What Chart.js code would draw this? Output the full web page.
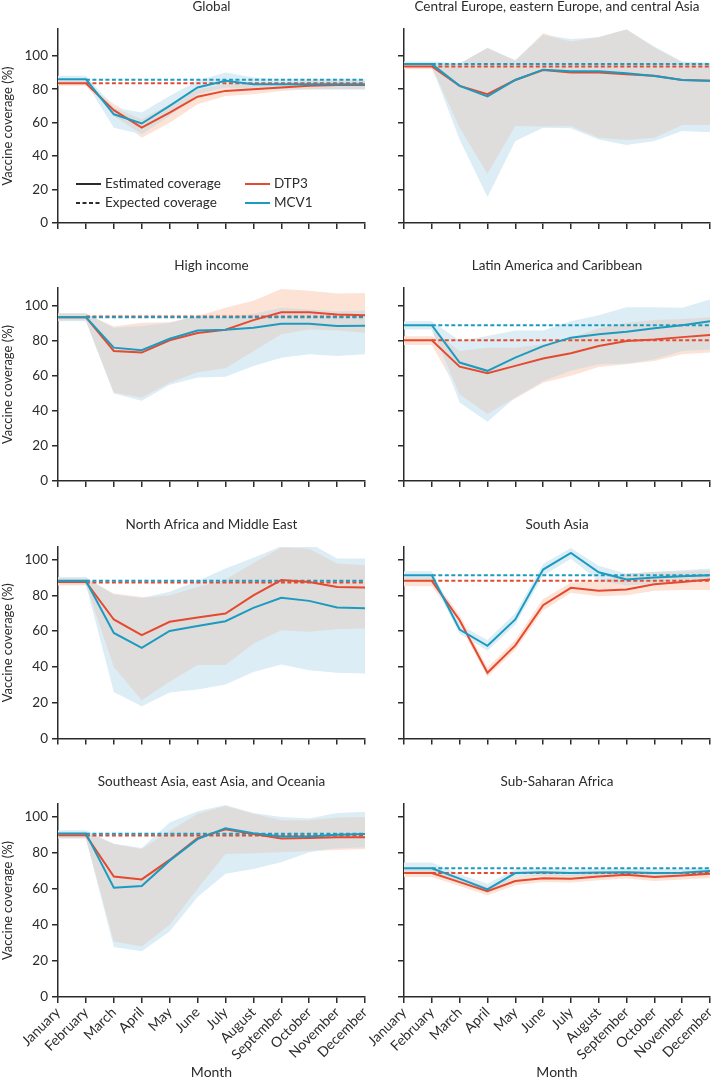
<!DOCTYPE html>
<html>
<head>
<meta charset="utf-8">
<title>Vaccine coverage by month</title>
<script src="https://cdn.jsdelivr.net/npm/chart.js@4.4.1/dist/chart.umd.min.js"></script>
<style>
  body { margin: 0; background: #fff; width: 713px; height: 1079px; position: relative; overflow: hidden; }
  canvas { position: absolute; }
</style>
</head>
<body>
<script>
const months = ['January', 'February', 'March', 'April', 'May', 'June', 'July', 'August', 'September', 'October', 'November', 'December'];
const yTickStep = 20;

// Global
const globalDtp3    = [83.5, 83.5, 67.5, 57, 66, 75.5, 79, 80, 81, 82, 82.5, 82.5];
const globalDtp3Lo  = [82, 82, 64, 51, 60, 71, 76, 77, 79, 80, 80, 80];
const globalDtp3Hi  = [85, 85, 71, 62, 71, 80, 83, 84, 84, 85, 85, 85];
const globalMcv1    = [86, 86, 65, 59.5, 70, 81, 85, 83, 83, 83, 83, 83];
const globalMcv1Lo  = [84, 84, 57, 53, 64, 77, 81, 80, 80, 80, 80, 80];
const globalMcv1Hi  = [88, 88, 69, 66, 76, 85, 90, 87, 86, 86, 86, 86];
const globalExpected = [83.5, 85.7];

// Central Europe, eastern Europe, and central Asia
const ceDtp3    = [93.6, 93.6, 82, 77, 85.5, 91.5, 90, 90, 89, 88, 85.5, 85];
const ceDtp3Lo  = [92, 92, 57, 29.5, 58, 57.7, 58, 51, 49.7, 51, 58.6, 58.6];
const ceDtp3Hi  = [95.5, 95.5, 95, 104.6, 97, 113.5, 108.5, 111, 115.7, 105, 96, 95.4];
const ceMcv1    = [95, 95, 82, 75.7, 85.5, 91.7, 90.7, 90.7, 89.5, 87.9, 85.5, 85];
const ceMcv1Lo  = [93.5, 93.5, 50, 15.5, 49, 57, 56.7, 50, 46.7, 49, 55, 54.3];
const ceMcv1Hi  = [96.5, 96.5, 95.5, 104.6, 97.5, 112.5, 110, 111, 115.7, 105.5, 96.5, 95.8];
const ceExpected = [93.6, 95];

// High income
const hiDtp3    = [93.4, 93.4, 74.1, 73.2, 80.2, 84.3, 86.2, 91.7, 96.2, 96.2, 94.9, 94.5];
const hiDtp3Lo  = [91.5, 91.5, 50.5, 47.6, 56, 62, 64.3, 74, 83.6, 86.4, 85.8, 84.5];
const hiDtp3Hi  = [95.5, 95.5, 88, 90.2, 90.5, 94, 98.7, 102.8, 109.5, 108.5, 106.8, 107.2];
const hiMcv1    = [93.4, 93.4, 76, 74.5, 81.1, 85.8, 86.2, 87.3, 89.6, 89.6, 88.3, 88.5];
const hiMcv1Lo  = [91, 91, 49.9, 45.7, 54.8, 59, 59.4, 65.6, 70.3, 72.2, 71.3, 72.2];
const hiMcv1Hi  = [95.5, 95.5, 87.3, 88.3, 90, 94, 93.4, 95.3, 98.7, 97.7, 96.8, 97.2];
const hiExpected = [93.8, 93.4];

// Latin America and Caribbean
const laDtp3    = [80.2, 80.2, 65.2, 61.4, 65.6, 69.8, 72.8, 76.9, 79.8, 80.7, 82, 83.2];
const laDtp3Lo  = [77.5, 77.5, 49.5, 38.2, 47, 56, 60, 65, 66.5, 68.4, 72.2, 73.2];
const laDtp3Hi  = [82.5, 82.5, 74.1, 76, 76, 77.9, 81.7, 87, 90.2, 91.7, 92.4, 93.4];
const laMcv1    = [88.8, 88.8, 67.5, 62.8, 70.3, 76.9, 81.7, 83.6, 85.1, 87, 88.8, 91.1];
const laMcv1Lo  = [86.4, 86.4, 44.8, 33.8, 47.6, 57, 62.8, 66.5, 67, 69.4, 74.1, 75];
const laMcv1Hi  = [91.1, 91.1, 80, 82.6, 85.8, 85.8, 91.1, 94.5, 99, 99, 98.7, 103.4];
const laExpected = [80.2, 88.8];

// North Africa and Middle East
const naDtp3    = [87.5, 87.5, 66.5, 57.7, 65.2, 67.6, 69.8, 80, 88.5, 87.5, 84.7, 84.4];
const naDtp3Lo  = [85.5, 85.5, 40, 21.4, 31.7, 41, 41, 53, 60.5, 59.6, 61, 61.5];
const naDtp3Hi  = [89.5, 89.5, 81, 79, 80, 84.7, 88.8, 98, 106.7, 106, 97.8, 96.8];
const naMcv1    = [88.1, 88.1, 59, 50.6, 60.1, 62.9, 65.5, 73, 78.6, 76.9, 73.2, 72.8];
const naMcv1Lo  = [86, 86, 26, 18, 25.7, 27.4, 30.2, 37.2, 41.3, 38.2, 36.7, 36.3];
const naMcv1Hi  = [90.2, 90.2, 80.5, 78.5, 82, 88, 95, 101, 107.4, 109.3, 100.6, 100.6];
const naExpected = [87.2, 88.1];

// South Asia
const saDtp3    = [88.1, 88.1, 66.1, 36.7, 52, 74.5, 84.2, 82.5, 83.2, 86.2, 87.5, 88.8];
const saDtp3Lo  = [85, 85, 63.5, 34.5, 49.5, 71.5, 81.5, 79.5, 80, 82.5, 83, 83];
const saDtp3Hi  = [90, 90, 69, 39.5, 55, 78, 87, 88, 92, 93, 93.5, 94];
const saMcv1    = [91.2, 91.2, 60.9, 51.8, 66.5, 94.4, 103.7, 92.9, 88.8, 89.9, 90.7, 91.2];
const saMcv1Lo  = [89, 89, 58.5, 49, 63.5, 91, 100.5, 88, 85.5, 86.5, 87.5, 88];
const saMcv1Hi  = [93.5, 93.5, 63.5, 55, 70, 97.5, 106.5, 96.5, 92, 93, 94, 95];
const saExpected = [88.1, 91.2];

// Southeast Asia, east Asia, and Oceania
const seDtp3    = [89.7, 89.7, 66.8, 65.2, 76, 88.1, 93, 90.3, 87.9, 88.1, 88.5, 88.5];
const seDtp3Lo  = [88, 88, 30.8, 28, 40, 60, 79.3, 79.7, 80.2, 81, 81.5, 82];
const seDtp3Hi  = [91.2, 91.2, 84.8, 82, 92, 101.6, 105.9, 101.6, 98, 98, 99.5, 99.8];
const seMcv1    = [90.7, 90.7, 60.6, 61.5, 75.6, 87.5, 93.6, 90.8, 89, 89, 89.9, 90.3];
const seMcv1Lo  = [88, 88, 27.7, 25.3, 36.3, 55.5, 68.3, 71, 74.7, 80.2, 82.5, 83];
const seMcv1Hi  = [92.5, 92.5, 85, 82.6, 96.7, 103, 106.4, 102, 99.8, 99, 102, 102.7];
const seExpected = [89.6, 90.5];

// Sub-Saharan Africa
const ssaDtp3   = [68.7, 68.7, 63.7, 58.6, 64.3, 65.9, 65.6, 66.8, 67.8, 66.5, 67.4, 68.3];
const ssaDtp3Lo = [66.5, 66.5, 61.5, 56.4, 62, 63.8, 63.5, 64.7, 65.7, 64.3, 65.2, 66];
const ssaDtp3Hi = [70.8, 70.8, 66, 61, 66.5, 68, 67.8, 69, 70, 68.7, 69.6, 70.5];
const ssaMcv1   = [71.4, 71.4, 65.6, 59.7, 68.7, 69.2, 68.7, 69, 69.2, 68.7, 68.9, 69.8];
const ssaMcv1Lo = [68.8, 68.8, 63.2, 57.5, 66.7, 67.2, 66.8, 67.2, 67.3, 66.8, 67, 67.8];
const ssaMcv1Hi = [74.5, 74.5, 68, 62.8, 70.8, 71.3, 70.7, 71, 71.3, 70.8, 71, 72];
const ssaExpected = [68.7, 71.4];

const rowMax = [116, 110, 107, 107];

const RED = '#e5492f', BLUE = '#1c9bc0';
const PEACH = '#fde2d6', SKY = '#dcedf6', GREY = '#dfdddb';
const INK = '#2b2b2b';
const FONT = 'Lato';

const panels = [
  { title: 'Global', d: globalDtp3, dLo: globalDtp3Lo, dHi: globalDtp3Hi, m: globalMcv1, mLo: globalMcv1Lo, mHi: globalMcv1Hi, exp: globalExpected },
  { title: 'Central Europe, eastern Europe, and central Asia', d: ceDtp3, dLo: ceDtp3Lo, dHi: ceDtp3Hi, m: ceMcv1, mLo: ceMcv1Lo, mHi: ceMcv1Hi, exp: ceExpected },
  { title: 'High income', d: hiDtp3, dLo: hiDtp3Lo, dHi: hiDtp3Hi, m: hiMcv1, mLo: hiMcv1Lo, mHi: hiMcv1Hi, exp: hiExpected },
  { title: 'Latin America and Caribbean', d: laDtp3, dLo: laDtp3Lo, dHi: laDtp3Hi, m: laMcv1, mLo: laMcv1Lo, mHi: laMcv1Hi, exp: laExpected },
  { title: 'North Africa and Middle East', d: naDtp3, dLo: naDtp3Lo, dHi: naDtp3Hi, m: naMcv1, mLo: naMcv1Lo, mHi: naMcv1Hi, exp: naExpected },
  { title: 'South Asia', d: saDtp3, dLo: saDtp3Lo, dHi: saDtp3Hi, m: saMcv1, mLo: saMcv1Lo, mHi: saMcv1Hi, exp: saExpected },
  { title: 'Southeast Asia, east Asia, and Oceania', d: seDtp3, dLo: seDtp3Lo, dHi: seDtp3Hi, m: seMcv1, mLo: seMcv1Lo, mHi: seMcv1Hi, exp: seExpected },
  { title: 'Sub-Saharan Africa', d: ssaDtp3, dLo: ssaDtp3Lo, dHi: ssaDtp3Hi, m: ssaMcv1, mLo: ssaMcv1Lo, mHi: ssaMcv1Hi, exp: ssaExpected },
];

// page layout: canvas boxes and where the plot area sits inside them
const rows = [
  { top: 0,   height: 240, areaTop: 29,  areaBottom: 223 },
  { top: 240, height: 255, areaTop: 288, areaBottom: 481 },
  { top: 495, height: 255, areaTop: 547, areaBottom: 738.5 },
  { top: 760, height: 321, areaTop: 804, areaBottom: 997 },
];
const cols = [
  { left: 0,   width: 372, areaLeft: 58,  areaRight: 365 },
  { left: 352, width: 361, areaLeft: 404, areaRight: 710 },
];

const panelTitle = {
  id: 'panelTitle',
  afterDraw(chart, args, opts) {
    const { ctx, chartArea } = chart;
    ctx.save();
    ctx.font = '13.5px ' + FONT;
    ctx.fillStyle = INK;
    ctx.textAlign = 'center';
    ctx.textBaseline = 'middle';
    ctx.fillText(opts.text, (chartArea.left + chartArea.right) / 2, chartArea.top - 22);
    ctx.restore();
  }
};

const keyBox = {
  id: 'keyBox',
  afterDraw(chart, args, opts) {
    if (!opts.show) return;
    const { ctx } = chart;
    const items = [
      { x: 76, y: 184, color: INK, dash: [], text: 'Estimated coverage' },
      { x: 76, y: 203, color: INK, dash: [4, 2.5], text: 'Expected coverage' },
      { x: 245, y: 184, color: RED, dash: [], text: 'DTP3' },
      { x: 245, y: 203, color: BLUE, dash: [], text: 'MCV1' },
    ];
    ctx.save();
    ctx.font = '13.5px ' + FONT;
    ctx.textBaseline = 'middle';
    ctx.textAlign = 'left';
    items.forEach(it => {
      ctx.strokeStyle = it.color;
      ctx.lineWidth = 2;
      ctx.setLineDash(it.dash);
      ctx.beginPath();
      ctx.moveTo(it.x, it.y);
      ctx.lineTo(it.x + 25, it.y);
      ctx.stroke();
      ctx.fillStyle = INK;
      ctx.fillText(it.text, it.x + 29, it.y);
    });
    ctx.restore();
  }
};

function band(data, fill, color, order) {
  return {
    data: data, fill: fill, backgroundColor: color, borderColor: 'transparent',
    borderWidth: 0, pointRadius: 0, tension: 0, order: order
  };
}

function makePanel(p, idx) {
  const r = Math.floor(idx / 2), c = idx % 2;
  const row = rows[r], col = cols[c];
  const isLeft = c === 0, isBottom = r === rows.length - 1;

  const canvas = document.createElement('canvas');
  canvas.width = col.width;
  canvas.height = row.height;
  canvas.style.left = col.left + 'px';
  canvas.style.top = row.top + 'px';
  canvas.style.width = col.width + 'px';
  canvas.style.height = row.height + 'px';
  document.body.appendChild(canvas);

  const ovLo = p.dLo.map((v, i) => Math.max(v, p.mLo[i]));
  const ovHi = p.dHi.map((v, i) => Math.max(ovLo[i], Math.min(v, p.mHi[i])));
  const expD = months.map((m, i) => i === 0 ? null : p.exp[0]);
  const expM = months.map((m, i) => i === 0 ? null : p.exp[1]);

  const yWidth = col.areaLeft - col.left;
  const xHeight = row.top + row.height - row.areaBottom;

  new Chart(canvas, {
    type: 'line',
    data: {
      labels: months,
      datasets: [
        band(p.dLo, false, PEACH, 6),
        band(p.dHi, '-1', PEACH, 6),
        band(p.mLo, false, SKY, 5),
        band(p.mHi, '-1', SKY, 5),
        band(ovLo, false, GREY, 4),
        band(ovHi, '-1', GREY, 4),
        { data: expD, borderColor: RED, borderWidth: 2, borderDash: [4, 2.5], pointRadius: 0, fill: false, order: 3 },
        { data: expM, borderColor: BLUE, borderWidth: 2, borderDash: [4, 2.5], pointRadius: 0, fill: false, order: 2 },
        { data: p.d, borderColor: RED, borderWidth: 2, pointRadius: 0, fill: false, tension: 0, order: 1 },
        { data: p.m, borderColor: BLUE, borderWidth: 2, pointRadius: 0, fill: false, tension: 0, order: 0 },
      ]
    },
    options: {
      responsive: false,
      animation: false,
      events: [],
      layout: {
        padding: { top: row.areaTop - row.top, right: col.left + col.width - col.areaRight, left: 0, bottom: 0 }
      },
      scales: {
        x: {
          type: 'category',
          offset: false,
          border: { display: true, color: INK, width: 1.5 },
          grid: { drawOnChartArea: false, drawTicks: true, tickLength: 6, color: INK, lineWidth: 1.5 },
          ticks: {
            autoSkip: false,
            maxRotation: 45,
            minRotation: 45,
            padding: 1,
            color: INK,
            font: { family: FONT, size: 14 },
            callback: function (v, i) { return isBottom ? months[i] : ''; }
          },
          title: {
            display: isBottom, text: 'Month', color: INK,
            font: { family: FONT, size: 14 }, padding: { top: 0, bottom: 0 }
          },
          afterFit: s => { s.height = xHeight; s.paddingLeft = 0; s.paddingRight = 0; }
        },
        y: {
          min: 0,
          max: rowMax[r],
          border: { display: true, color: INK, width: 1.5 },
          grid: { drawOnChartArea: false, drawTicks: true, tickLength: 6, color: INK, lineWidth: 1.5 },
          ticks: {
            stepSize: yTickStep,
            includeBounds: false,
            padding: 4,
            color: INK,
            font: { family: FONT, size: 13.5 },
            callback: v => (isLeft && v <= 100) ? String(v) : ''
          },
          title: {
            display: isLeft, text: 'Vaccine coverage (%)', color: INK,
            font: { family: FONT, size: 13 }, padding: { top: 0, bottom: 0 }
          },
          afterFit: s => { s.width = yWidth; s.paddingTop = 0; s.paddingBottom = 0; }
        }
      },
      plugins: {
        legend: { display: false },
        tooltip: { enabled: false },
        panelTitle: { text: p.title },
        keyBox: { show: idx === 0 }
      }
    },
    plugins: [panelTitle, keyBox]
  });
}

panels.forEach(makePanel);
</script>
</body>
</html>
